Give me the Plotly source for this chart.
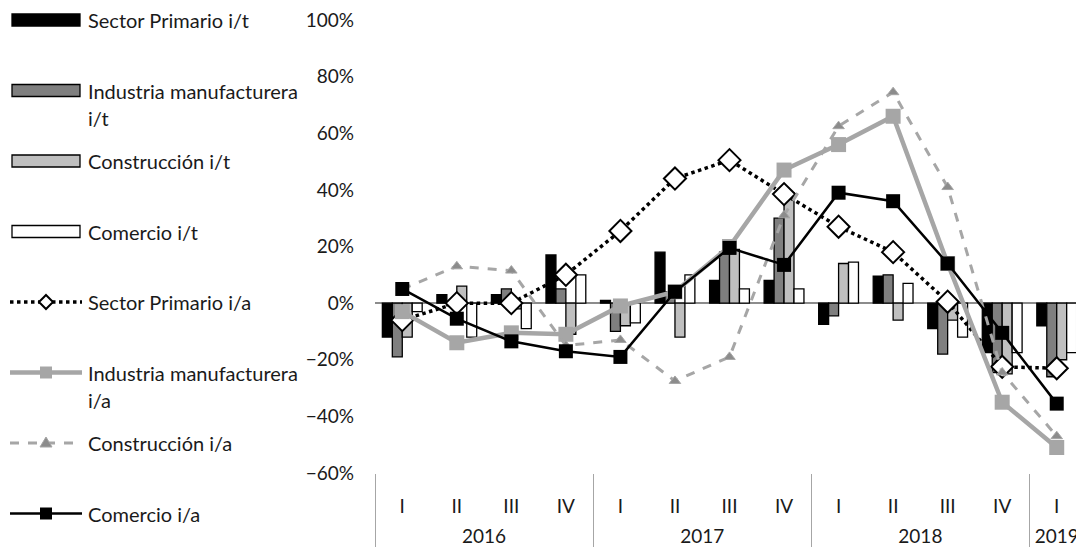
import plotly.graph_objects as go

# categorias: trimestre / año
years = ['2016'] * 4 + ['2017'] * 4 + ['2018'] * 4 + ['2019']
quarters = ['I', 'II', 'III', 'IV'] * 3 + ['I']

# variaciones trimestrales (barras), en %
primario_it = [-12, 3, 3, 17, 1, 18, 8, 8, -7.5, 9.5, -9, -17.5, -8]
industria_it = [-19, -1, 5, 5, -10, 4, 18, 30, -4.5, 10, -18, -24.5, -26]
construccion_it = [-12, 6, -2, -11, -8, -12, 19, 39, 14, -6, -6, -25, -20]
comercio_it = [-3, -12, -9, 10, -7, 10, 5, 5, 14.5, 7, -12, -17.5, -17.5]

# variaciones interanuales (lineas), en %
primario_ia = [-6, 0, 0, 10, 25.5, 44, 50.5, 38.5, 27, 18, 0.5, -22.5, -23]
industria_ia = [-3, -14, -10.5, -11, -1, 4, 20, 47, 56, 66, 14, -35, -51]
construccion_ia = [5, 13, 11.5, -15, -13, -27.5, -19, 31, 62.5, 74.5, 41, -24.5, -47]
comercio_ia = [5, -5.5, -13.5, -17, -19, 4, 19.5, 13.5, 39, 36, 14, -10.5, -35.5]

# el salto de linea baja la fila de los años, como en el original
x = [['<br>' + y for y in years], quarters]

fig = go.Figure()

bars = [
    ('Sector Primario i/t', primario_it, '#000000'),
    ('Industria manufacturera i/t', industria_it, '#7f7f7f'),
    ('Construcción i/t', construccion_it, '#bfbfbf'),
    ('Comercio i/t', comercio_it, '#ffffff'),
]
for name, vals, color in bars:
    fig.add_trace(go.Bar(x=x, y=vals, name=name,
                         marker=dict(color=color, line=dict(color='black', width=1.3))))

fig.add_trace(go.Scatter(x=x, y=primario_ia, name='Sector Primario i/a', mode='lines+markers',
                         line=dict(color='black', width=3.5, dash='dot'),
                         marker=dict(symbol='diamond', size=17, color='white',
                                     line=dict(color='black', width=2))))
fig.add_trace(go.Scatter(x=x, y=industria_ia, name='Industria manufacturera i/a', mode='lines+markers',
                         line=dict(color='#a6a6a6', width=4.5),
                         marker=dict(symbol='square', size=15, color='#a6a6a6')))
fig.add_trace(go.Scatter(x=x, y=construccion_ia, name='Construcción i/a', mode='lines+markers',
                         line=dict(color='#a6a6a6', width=3, dash='dash'),
                         marker=dict(symbol='triangle-up', size=10, color='#8c8c8c',
                                     line=dict(color='#a6a6a6', width=1))))
fig.add_trace(go.Scatter(x=x, y=comercio_ia, name='Comercio i/a', mode='lines+markers',
                         line=dict(color='black', width=2.5),
                         marker=dict(symbol='square', size=14, color='black')))

# leyenda a la izquierda, dibujada a mano (px de pantalla, relativos a la esquina inf. izq. del grafico)
L, B = 375, 473
rows = [20, 90.5, 161, 231.5, 302, 372.5, 443, 513.5]
shapes = []
annotations = []


def px_shape(kind, x0, y0, x1, y1, **kw):
    return dict(type=kind, xref='paper', yref='paper', xsizemode='pixel', ysizemode='pixel',
                xanchor=0, yanchor=0, x0=x0 - L, x1=x1 - L, y0=B - y0, y1=B - y1, **kw)


def px_path(path_pts, **kw):
    pts = ' L'.join(f'{px - L},{B - py}' for px, py in path_pts)
    return dict(type='path', xref='paper', yref='paper', xsizemode='pixel', ysizemode='pixel',
                xanchor=0, yanchor=0, path='M' + pts + ' Z', **kw)


for (name, vals, color), yc in zip(bars, rows[:4]):
    shapes.append(px_shape('rect', 12, yc - 6, 80, yc + 6, fillcolor=color,
                           line=dict(color='black', width=1.3)))

y = rows[4]
shapes.append(px_shape('line', 10, y, 82, y, line=dict(color='black', width=3.5, dash='dot')))
shapes.append(px_path([(46, y - 7), (53, y), (46, y + 7), (39, y)], fillcolor='white',
                      line=dict(color='black', width=2)))
y = rows[5]
shapes.append(px_shape('line', 10, y, 82, y, line=dict(color='#a6a6a6', width=4.5)))
shapes.append(px_shape('rect', 40, y - 6, 52, y + 6, fillcolor='#a6a6a6', line=dict(width=0)))
y = rows[6]
shapes.append(px_shape('line', 10, y, 82, y, line=dict(color='#a6a6a6', width=3, dash='dash')))
shapes.append(px_path([(46, y - 6), (52, y + 4), (40, y + 4)], fillcolor='#8c8c8c',
                      line=dict(color='#a6a6a6', width=1)))
y = rows[7]
shapes.append(px_shape('line', 10, y, 82, y, line=dict(color='black', width=2.5)))
shapes.append(px_shape('rect', 40, y - 6, 52, y + 6, fillcolor='black', line=dict(width=0)))

labels = [
    ['Sector Primario i/t'],
    ['Industria manufacturera', 'i/t'],
    ['Construcción i/t'],
    ['Comercio i/t'],
    ['Sector Primario i/a'],
    ['Industria manufacturera', 'i/a'],
    ['Construcción i/a'],
    ['Comercio i/a'],
]
for lines, yc in zip(labels, rows):
    for i, txt in enumerate(lines):
        annotations.append(dict(text=txt, xref='paper', yref='paper', x=0, y=0,
                                xshift=86 - L, yshift=B - (yc + 27 * i),
                                xanchor='left', yanchor='middle', showarrow=False))

fig.update_layout(
    width=1084, height=556,
    margin=dict(l=367, r=8, t=12, b=91),
    plot_bgcolor='white', paper_bgcolor='white',
    barmode='group', bargap=0.27, bargroupgap=0,
    showlegend=False,
    font=dict(family='Lato, sans-serif', size=20, color='#1a1a1a'),
    shapes=shapes,
    annotations=annotations,
)
fig.update_yaxes(range=[-60, 100], tick0=0, dtick=20, ticksuffix='%', showticksuffix='all',
                 showgrid=False, showline=False, automargin=False,
                 zeroline=True, zerolinecolor='#8c8c8c', zerolinewidth=1.5,
                 tickfont=dict(size=19), ticklabelstandoff=20, ticklabeloverflow='allow')
fig.update_xaxes(range=[-0.5, 12.5], showgrid=False, showline=False, showdividers=True,
                 dividercolor='#a6a6a6', dividerwidth=1, automargin=False,
                 tickfont=dict(size=19), ticklabelstandoff=20, ticklabeloverflow='allow')

fig.write_html('out.html')
